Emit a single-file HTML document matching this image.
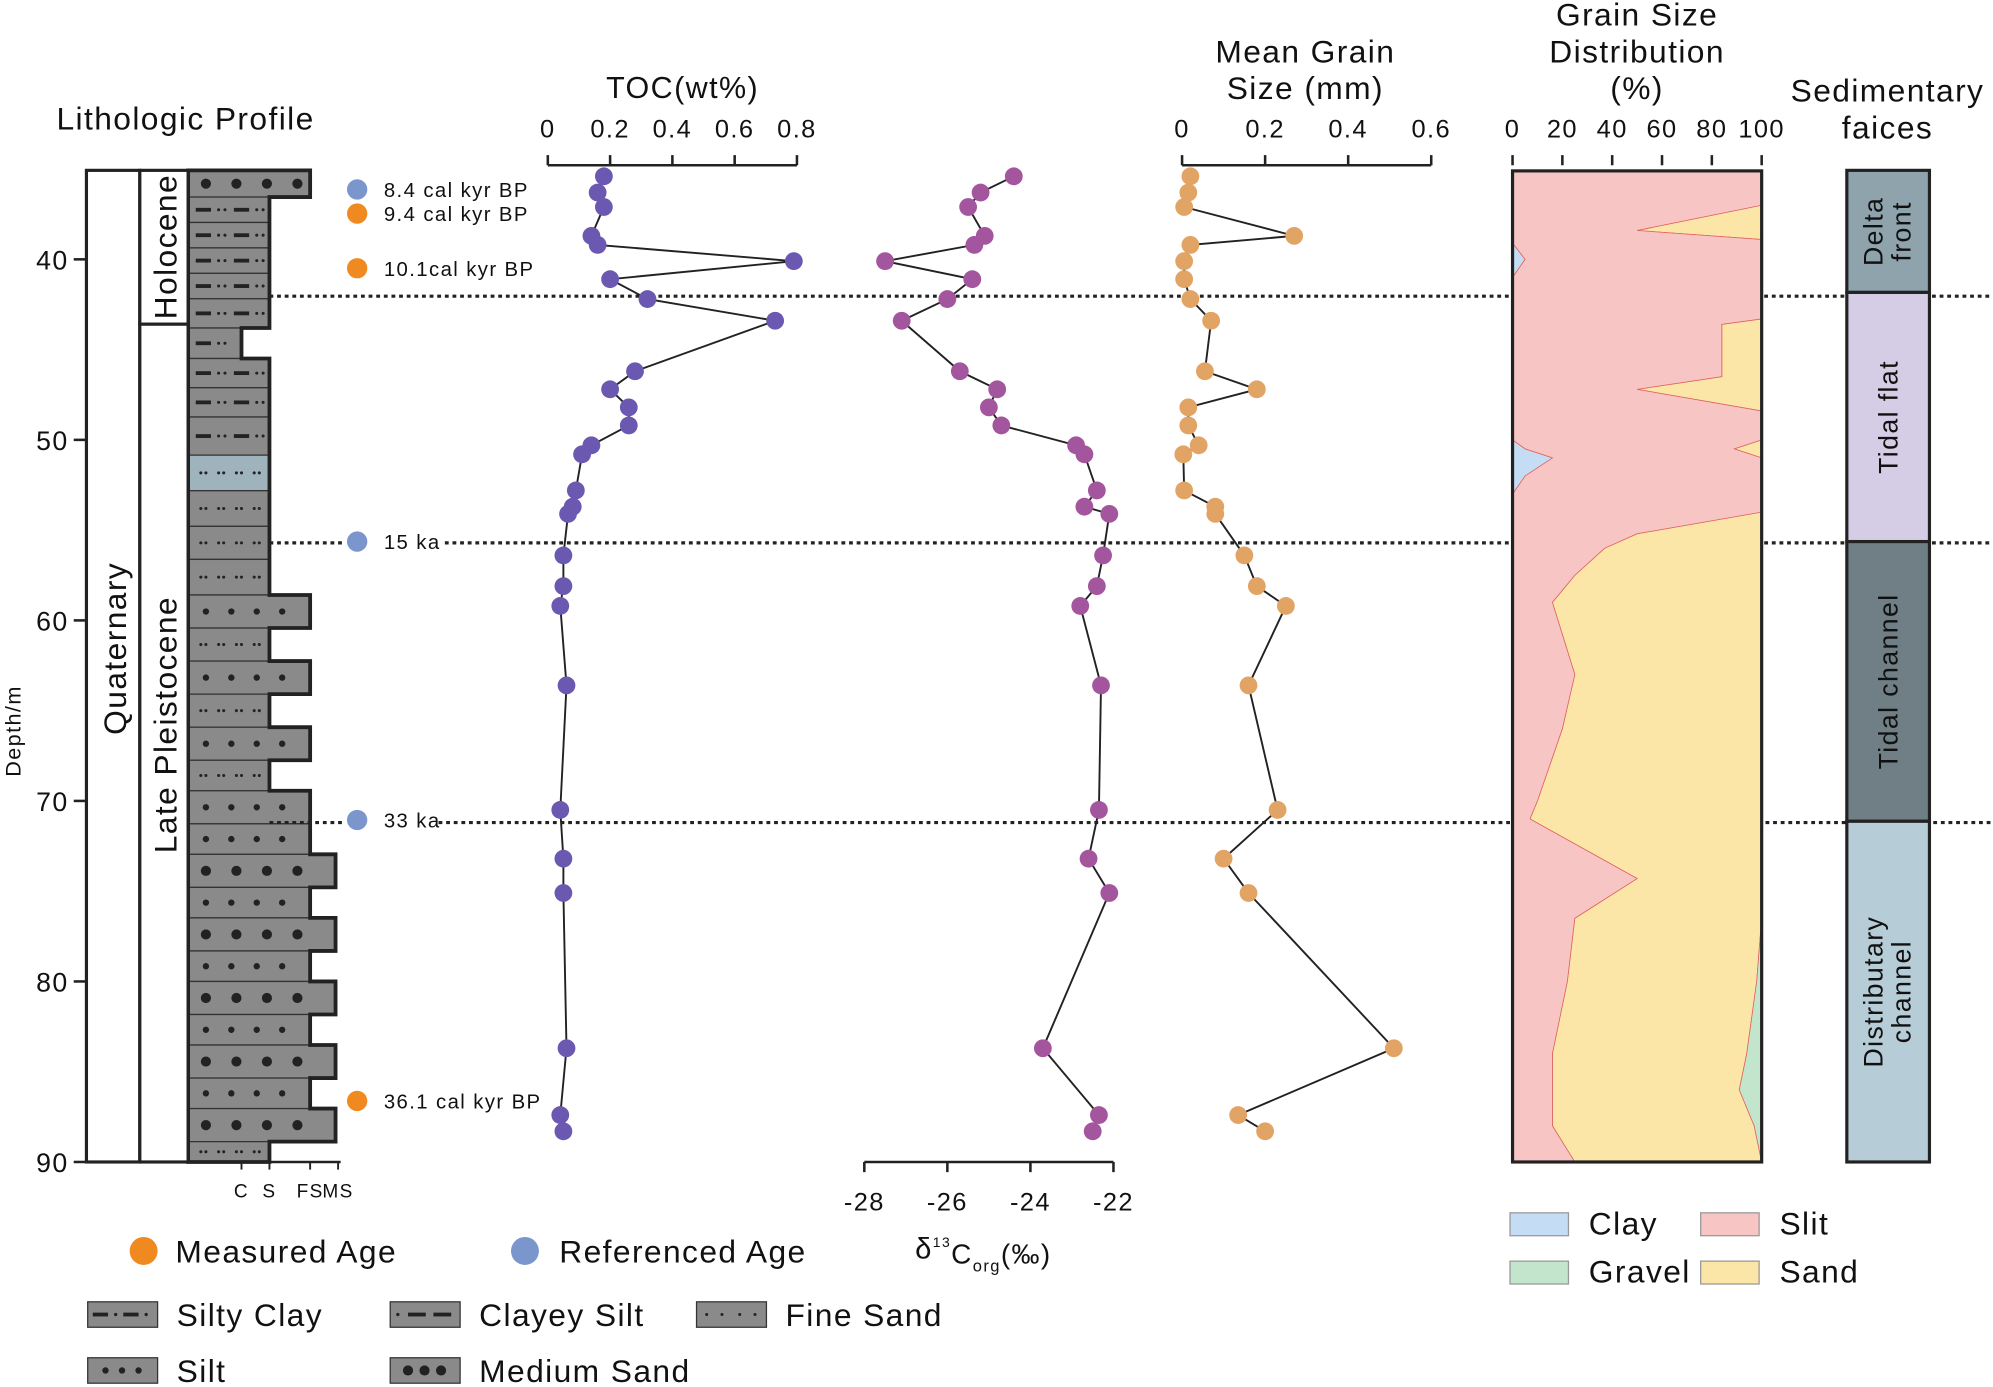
<!DOCTYPE html>
<html><head><meta charset="utf-8"><style>
html,body{margin:0;padding:0;background:#fff;}
svg{display:block;font-family:"Liberation Sans",Arial,sans-serif;}
text{letter-spacing:1.1px;}
</style></head><body>
<svg id="chart" width="1993" height="1387" viewBox="0 0 1568 1091" preserveAspectRatio="none" xmlns="http://www.w3.org/2000/svg">
<g id="g"></g>
</svg>
<script>
// ===== DATA =====
const tocDepth = [35.4,36.3,37.1,38.7,39.2,40.1,41.1,42.2,43.4,46.2,47.2,48.2,49.2,50.3,50.8,52.8,53.7,54.1,56.4,58.1,59.2,63.6,70.5,73.2,75.1,83.7,87.4,88.3];
const tocValues = [0.18,0.16,0.18,0.14,0.16,0.79,0.2,0.32,0.73,0.28,0.2,0.26,0.26,0.14,0.11,0.09,0.08,0.065,0.05,0.05,0.04,0.06,0.04,0.05,0.05,0.06,0.04,0.05];
const d13cValues = [-24.4,-25.2,-25.5,-25.1,-25.35,-27.5,-25.4,-26.0,-27.1,-25.7,-24.8,-25.0,-24.7,-22.9,-22.7,-22.4,-22.7,-22.1,-22.25,-22.4,-22.8,-22.3,-22.35,-22.6,-22.1,-23.7,-22.35,-22.5];
const grainValues = [0.02,0.015,0.005,0.27,0.02,0.005,0.005,0.02,0.07,0.055,0.18,0.015,0.015,0.04,0.003,0.005,0.08,0.08,0.15,0.18,0.25,0.16,0.23,0.1,0.16,0.51,0.135,0.2];
const gsDepth = [35.1,37.0,38.4,38.9,39.1,40.0,41.0,43.3,43.6,46.5,47.2,48.4,50.0,50.5,51.0,52.0,53.0,54.0,55.2,56.0,57.5,59.0,63.0,66.0,70.0,71.0,74.3,76.5,80.0,84.0,86.0,88.0,90.0];
const gsClay  = [0,0,0,0,0,5,0,0,0,0,0,0,0,5,16,5,0,0,0,0,0,0,0,0,0,0,0,0,0,0,0,0,0];
const gsSilt  = [100,100,50,100,100,95,100,100,84,84,50,100,100,84,84,95,100,100,50,37,25,16,25,20,10,7,50,25,22,16,16,16,25];
const gsGravel= [0,0,0,0,0,0,0,0,0,0,0,0,0,0,0,0,0,0,0,0,0,0,0,0,0,0,0,0,2,6,9,3,0];
const depthTicks = [40,50,60,70,80,90];
const tocTicks = [0,0.2,0.4,0.6,0.8];
const d13cTicks = [-28,-26,-24,-22];
const grainTicks = [0,0.2,0.4,0.6];
const pctTicks = [0,20,40,60,80,100];

// ===== SCALES =====
const yD = d => 204 + (d-40)*14.2;
const xToc = v => 431 + v*245;
const xD13 = v => 680 + (v+28)*32.67;
const xGr = v => 930 + v*326.7;
const xPct = v => 1190 + v*1.96;

const NS="http://www.w3.org/2000/svg";
const G=document.getElementById('g');
function el(tag, attrs, parent){const e=document.createElementNS(NS,tag);for(const k in attrs)e.setAttribute(k,attrs[k]);(parent||G).appendChild(e);return e;}
function txt(x,y,s,size,anchor,parent,extra){const t=el('text',Object.assign({x:x,y:y,'font-size':size,'text-anchor':anchor||'start',fill:'#111'},extra||{}),parent);t.textContent=s;return t;}

// ===== Lithologic column =====
const litho = [[134,155,244,'M'],[155,175,212,'CS'],[175,195,212,'CS'],[195,215,212,'CS'],[215,235,212,'CS'],[235,258,212,'CS'],[258,282,190,'SC'],[282,305,212,'CS'],[305,328,212,'CS'],[328,358,212,'CS'],[358,386,212,'B'],[386,414,212,'F'],[414,440,212,'F'],[440,468,212,'F'],[468,494,244,'S'],[494,520,212,'F'],[520,546,244,'S'],[546,572,212,'F'],[572,598,244,'S'],[598,622,212,'F'],[622,648,244,'S'],[648,672,244,'S'],[672,698,264,'M'],[698,722,244,'S'],[722,748,264,'M'],[748,772,244,'S'],[772,798,264,'M'],[798,822,244,'S'],[822,848,264,'M'],[848,872,244,'S'],[872,898,264,'M'],[898,914,212,'F']];
const lg = el('g',{});


litho.forEach(r=>{
  const [y0,y1,xr,p]=r;
  el('rect',{x:148,y:y0,width:xr-148,height:y1-y0,fill:p==='B'?'#9fb3bd':'#8a8a8a',stroke:'#333','stroke-width':1},lg);
  const cy=(y0+y1)/2;
  if(p==='M'||p==='S'){const rr=p==='M'?4:2.5;for(let x=162;x<xr-8;x+=(p==='M'?24:20))el('circle',{cx:x,cy:cy,r:rr,fill:'#222'},lg);}
  else if(p==='F'||p==='B'){for(let x=158;x<xr-6;x+=14){el('circle',{cx:x,cy:cy,r:1.2,fill:'#222'},lg);el('circle',{cx:x+4,cy:cy,r:1.2,fill:'#222'},lg);}}
  else {for(let x=154;x<xr-14;x+=30){el('rect',{x:x,y:cy-1.5,width:12,height:3,fill:'#222'},lg);el('circle',{cx:x+18,cy:cy,r:1.2,fill:'#222'},lg);el('circle',{cx:x+23,cy:cy,r:1.2,fill:'#222'},lg);}}
});
let pth='M148,134';litho.forEach(r=>{pth+=` L${r[2]},${r[0]} L${r[2]},${r[1]}`;});pth+=' L148,914 Z';
el('path',{d:pth,fill:'none',stroke:'#222','stroke-width':3},lg);
el('rect',{x:68,y:134,width:42,height:780,fill:'#fff',stroke:'#222','stroke-width':2.5});
el('rect',{x:110,y:134,width:38,height:121,fill:'#fff',stroke:'#222','stroke-width':2.5});
el('rect',{x:110,y:255,width:38,height:659,fill:'#fff',stroke:'#222','stroke-width':2.5});
txt(0,0,'Quaternary',25,'middle',null,{transform:'translate(99,510) rotate(-90)',});
txt(0,0,'Holocene',25,'middle',null,{transform:'translate(139,194) rotate(-90)',});
txt(0,0,'Late Pleistocene',25,'middle',null,{transform:'translate(139,570) rotate(-90)',});
txt(146,102,'Lithologic Profile',25,'middle',null,{});
[[190,'C'],[212,'S'],[244,'FS'],[266,'MS']].forEach(a=>{el('line',{x1:a[0],y1:914,x2:a[0],y2:920,stroke:'#222','stroke-width':1.5});txt(a[0],942,a[1],15,'middle',null,{'letter-spacing':'0'});});
el('line',{x1:148,y1:914,x2:268,y2:914,stroke:'#222','stroke-width':2});
depthTicks.forEach(d=>{el('line',{x1:58,y1:yD(d),x2:68,y2:yD(d),stroke:'#222','stroke-width':2});txt(54,yD(d)+8,String(d),21,'end');});
txt(0,0,'Depth/m',17,'middle',null,{transform:'translate(16,575) rotate(-90)',});

// dotted lines (with gaps for labels)
[[233,212,1568],[427,212,272],[427,350,1568],[647,212,272],[647,345,1568]].forEach(a=>el('line',{x1:a[1],y1:a[0],x2:a[2],y2:a[0],stroke:'#222','stroke-width':2.5,'stroke-dasharray':'3,3'}));

// ===== Age markers =====
const ages=[[149,'#7b96cc','8.4 cal kyr BP'],[168,'#f08a20','9.4 cal kyr BP'],[211,'#f08a20','10.1cal kyr BP'],[426,'#7b96cc','15 ka'],[645,'#7b96cc','33 ka'],[866,'#f08a20','36.1 cal kyr BP']];
ages.forEach(a=>{const c=el('circle',{cx:281,cy:a[0],r:8,fill:a[1]});txt(302,a[0]+6,a[2],16,'start');});

function series(xs, xf, color, name){
  const g=el('g',{});
  
  
  const pts=tocDepth.map((d,i)=>xf(xs[i])+','+yD(d)).join(' ');
  el('polyline',{points:pts,fill:'none',stroke:'#222','stroke-width':1.5},g);
  tocDepth.forEach((d,i)=>{const c=el('circle',{cx:xf(xs[i]),cy:yD(d),r:7,fill:color},g);});
}
el('line',{x1:431,y1:130,x2:627,y2:130,stroke:'#222','stroke-width':2});
tocTicks.forEach(v=>{el('line',{x1:xToc(v),y1:122,x2:xToc(v),y2:130,stroke:'#222','stroke-width':2});txt(xToc(v),108,String(v),20,'middle');});
txt(537,77,'TOC(wt%)',24,'middle',null,{});
series(tocValues,xToc,'#6b58b0','toc-series');
el('line',{x1:680,y1:914,x2:876,y2:914,stroke:'#222','stroke-width':2});
d13cTicks.forEach(v=>{el('line',{x1:xD13(v),y1:914,x2:xD13(v),y2:922,stroke:'#222','stroke-width':2});txt(xD13(v),952,String(v),20,'middle');});
const t13=txt(720,990,'δ',23,'start',null,{});
const s1=el('tspan',{dy:-9,'font-size':11},t13);s1.textContent='13';
const s2=el('tspan',{dy:13,'font-size':22},t13);s2.textContent='C';
const s3=el('tspan',{dy:6,'font-size':13},t13);s3.textContent='org';
const s4=el('tspan',{dy:-6,'font-size':22},t13);s4.textContent='(‰)';
series(d13cValues,xD13,'#a3559d','d13c-series');
el('line',{x1:930,y1:130,x2:1126,y2:130,stroke:'#222','stroke-width':2});
grainTicks.forEach(v=>{el('line',{x1:xGr(v),y1:122,x2:xGr(v),y2:130,stroke:'#222','stroke-width':2});txt(xGr(v),108,String(v),20,'middle');});
txt(1027,49,'Mean Grain',25,'middle');txt(1027,78,'Size (mm)',25,'middle');
series(grainValues,xGr,'#e2a464','mean-grain-series');

// ===== Grain size distribution =====
const gg=el('g',{});


function area(lo,hi,color,name){
  let d='M'+gsDepth.map((dp,i)=>xPct(hi[i])+','+yD(dp)).join(' L');
  for(let i=gsDepth.length-1;i>=0;i--)d+=` L${xPct(lo[i])},${yD(gsDepth[i])}`;
  const p=el('path',{d:d+' Z',fill:color,stroke:'#e06060','stroke-width':0.6},gg);
  
  
}
const c0=gsDepth.map(()=>0), c1=gsClay.slice(), c2=gsClay.map((c,i)=>c+gsSilt[i]), c3=gsGravel.map(g=>100-g), c4=gsDepth.map(()=>100);
area(c2,c3,'#fbe6a8','sand-area');
area(c1,c2,'#f7c5c4','silt-area');
area(c0,c1,'#c5dcf5','clay-area');
area(c3,c4,'#c3e5cc','gravel-area');
el('rect',{x:1190,y:yD(35.1),width:196,height:yD(90)-yD(35.1),fill:'none',stroke:'#222','stroke-width':2.5});
pctTicks.forEach(v=>{el('line',{x1:xPct(v),y1:122,x2:xPct(v),y2:130,stroke:'#222','stroke-width':2});txt(xPct(v),108,String(v),20,'middle');});
txt(1288,20,'Grain Size',25,'middle');txt(1288,49,'Distribution',25,'middle');txt(1288,78,'(%)',25,'middle');

// ===== Facies =====
txt(1485,80,'Sedimentary',25,'middle');txt(1485,109,'faices',25,'middle');
const facies=[[134,230,'#8fa3ad',['Delta','front']],[230,426,'#d5cde6',['Tidal flat']],[426,646,'#6f7f85',['Tidal channel']],[646,914,'#b6ccd6',['Distributary','channel']]];
facies.forEach(f=>{
  const r=el('rect',{x:1453,y:f[0],width:65,height:f[1]-f[0],fill:f[2],stroke:'#222','stroke-width':2.5});
  
  
  const cy=(f[0]+f[1])/2;
  f[3].forEach((s,i)=>{const off=f[3].length===1?8:(i===0?-4:18);txt(0,0,s,21,'middle',null,{transform:`translate(${1485+off},${cy}) rotate(-90)`});});
});

// ===== Legends =====
const lgd=el('g',{});


el('circle',{cx:113,cy:984,r:11,fill:'#f08a20'},lgd);txt(138,993,'Measured Age',25,'start',lgd);
el('circle',{cx:413,cy:984,r:11,fill:'#7b96cc'},lgd);txt(440,993,'Referenced Age',25,'start',lgd);
function sw(x,y,kind,label){
  el('rect',{x:x,y:y,width:55,height:20,fill:'#8a8a8a',stroke:'#333','stroke-width':1},lgd);
  const cy=y+10;
  if(kind==='SC'){el('rect',{x:x+4,y:cy-1.5,width:12,height:3,fill:'#222'},lgd);el('circle',{cx:x+22,cy:cy,r:1.3,fill:'#222'},lgd);el('rect',{x:x+28,y:cy-1.5,width:12,height:3,fill:'#222'},lgd);el('circle',{cx:x+46,cy:cy,r:1.3,fill:'#222'},lgd);}
  if(kind==='CS'){el('circle',{cx:x+6,cy:cy,r:1.3,fill:'#222'},lgd);el('rect',{x:x+14,y:cy-1.5,width:14,height:3,fill:'#222'},lgd);el('rect',{x:x+34,y:cy-1.5,width:14,height:3,fill:'#222'},lgd);}
  if(kind==='F'){[8,20,34,46].forEach(o=>el('circle',{cx:x+o,cy:cy,r:1.2,fill:'#222'},lgd));}
  if(kind==='S'){[14,27,40].forEach(o=>el('circle',{cx:x+o,cy:cy,r:2.5,fill:'#222'},lgd));}
  if(kind==='M'){[14,27,40].forEach(o=>el('circle',{cx:x+o,cy:cy,r:4,fill:'#222'},lgd));}
  txt(x+70,y+19,label,25,'start',lgd);
}
sw(69,1024,'SC','Silty Clay');sw(307,1024,'CS','Clayey Silt');sw(548,1024,'F','Fine Sand');
sw(69,1068,'S','Silt');sw(307,1068,'M','Medium Sand');
[[1188,954,'#c5dcf5','Clay'],[1338,954,'#f7c5c4','Slit'],[1188,992,'#c3e5cc','Gravel'],[1338,992,'#fbe6a8','Sand']].forEach(a=>{
  el('rect',{x:a[0],y:a[1],width:46,height:18,fill:a[2],stroke:'#999','stroke-width':1},lgd);
  txt(a[0]+62,a[1]+17,a[3],25,'start',lgd);
});
</script>
</body></html>
